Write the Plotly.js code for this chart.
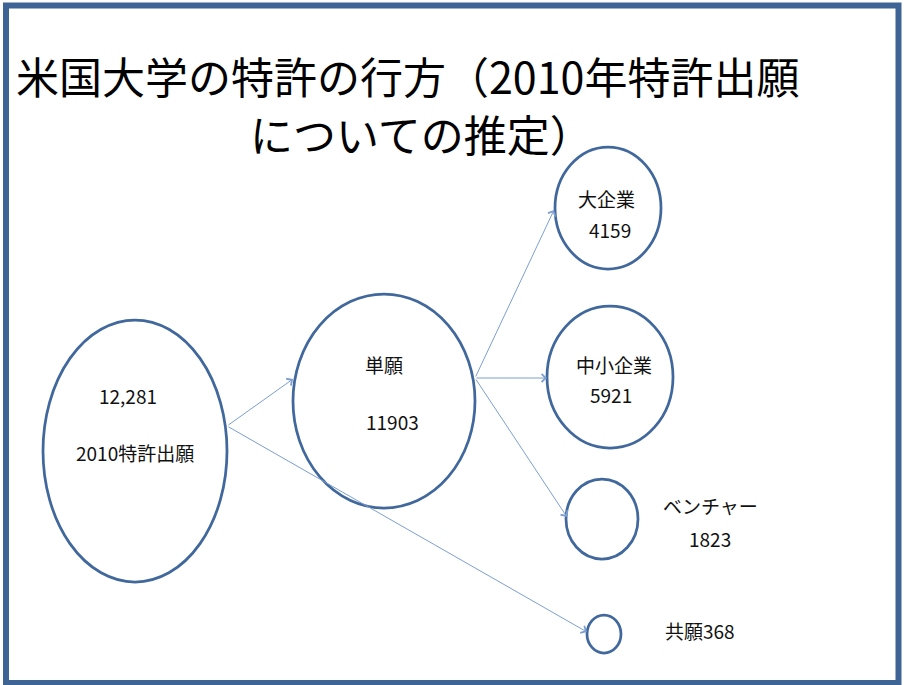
<!DOCTYPE html>
<html>
<head>
<meta charset="utf-8">
<script src="https://cdn.plot.ly/plotly-3.0.1.min.js"></script>
<style>html,body{margin:0;padding:0;background:#fff;}#chart{width:904px;height:685px;}</style>
</head>
<body>
<div id="chart"></div>
<script>
// ---- data ----
var titleLines = ["米国大学の特許の行方（2010年特許出願", "についての推定）"];
var nodeNames = ["2010特許出願", "単願", "大企業", "中小企業", "ベンチャー", "共願"];
var nodeValues = ["12,281", "11903", "4159", "5921", "1823", "368"];
var links = [[0, 1], [0, 5], [1, 2], [1, 3], [1, 4]];

// ---- layout geometry (pixel-like coordinates) ----
var nodeGeom = [
  {cx: 135, cy: 451, rx: 92, ry: 131},
  {cx: 384, cy: 401, rx: 91, ry: 107},
  {cx: 608, cy: 208, rx: 53, ry: 61},
  {cx: 610, cy: 377, rx: 63, ry: 71},
  {cx: 602, cy: 519, rx: 36, ry: 40},
  {cx: 604, cy: 634, rx: 17, ry: 19}
];
var linkGeom = [
  {x0: 227, y0: 426, x1: 293, y1: 379},
  {x0: 227, y0: 426, x1: 587, y1: 632},
  {x0: 475, y0: 378, x1: 554, y1: 210},
  {x0: 475, y0: 378, x1: 547, y1: 378},
  {x0: 475, y0: 378, x1: 567, y1: 517}
];
var labelGeom = [
  {x: 128, y: 395, x2: 135, y2: 452},
  {x: 384, y: 364, x2: 392, y2: 421},
  {x: 606, y: 198, x2: 610, y2: 229},
  {x: 614, y: 364, x2: 611, y2: 394},
  {x: 710, y: 505, x2: 710, y2: 538},
  {x: 700, y: 630}
];

var circleColor = "#41689c";
var arrowColor = "#7c9fd0";
var font = "'Noto Sans CJK JP', 'Noto Sans', sans-serif";

var shapes = [];
// frame
shapes.push({type: "rect", xref: "x", yref: "y", x0: 6, x1: 898.5, y0: 5.5, y1: 683,
  line: {color: "#3e6395", width: 6}, fillcolor: "rgba(0,0,0,0)"});
nodeGeom.forEach(function (g) {
  shapes.push({type: "circle", xref: "x", yref: "y",
    x0: g.cx - g.rx, x1: g.cx + g.rx, y0: g.cy - g.ry, y1: g.cy + g.ry,
    line: {color: circleColor, width: 2.75}, fillcolor: "rgba(255,255,255,0)"});
});

var annotations = [];
annotations.push({xref: "x", yref: "y", x: 14, y: 75, xanchor: "left", yanchor: "middle",
  text: titleLines[0], showarrow: false, font: {family: font, size: 43, color: "#000"}});
annotations.push({xref: "x", yref: "y", x: 248, y: 133, xanchor: "left", yanchor: "middle",
  text: titleLines[1], showarrow: false, font: {family: font, size: 43, color: "#000"}});

links.forEach(function (l, i) {
  var g = linkGeom[i];
  annotations.push({xref: "x", yref: "y", axref: "x", ayref: "y",
    x: g.x1, y: g.y1, ax: g.x0, ay: g.y0, text: "", showarrow: true,
    arrowhead: 4, arrowsize: 1.6, arrowwidth: 1, arrowcolor: arrowColor, standoff: 0, startstandoff: 0});
});

nodeNames.forEach(function (n, i) {
  var g = labelGeom[i];
  var f = {family: font, size: 19, color: "#111"};
  if (i === 0) {
    annotations.push({xref: "x", yref: "y", x: g.x, y: g.y, text: nodeValues[i], showarrow: false, font: f});
    annotations.push({xref: "x", yref: "y", x: g.x2, y: g.y2, text: n, showarrow: false, font: f});
  } else if (i === 5) {
    annotations.push({xref: "x", yref: "y", x: g.x, y: g.y, text: n + nodeValues[i], showarrow: false, font: f});
  } else {
    annotations.push({xref: "x", yref: "y", x: g.x, y: g.y, text: n, showarrow: false, font: f});
    annotations.push({xref: "x", yref: "y", x: g.x2, y: g.y2, text: nodeValues[i], showarrow: false, font: f});
  }
});

var layout = {
  width: 904, height: 685,
  margin: {l: 0, r: 0, t: 0, b: 0},
  paper_bgcolor: "#ffffff", plot_bgcolor: "#ffffff",
  xaxis: {range: [0, 904], visible: false, fixedrange: true},
  yaxis: {range: [685, 0], visible: false, fixedrange: true},
  showlegend: false,
  shapes: shapes,
  annotations: annotations
};

Plotly.newPlot("chart", [{x: [], y: [], type: "scatter", mode: "markers", hoverinfo: "skip"}], layout,
  {displayModeBar: false, staticPlot: true});
</script>
</body>
</html>
